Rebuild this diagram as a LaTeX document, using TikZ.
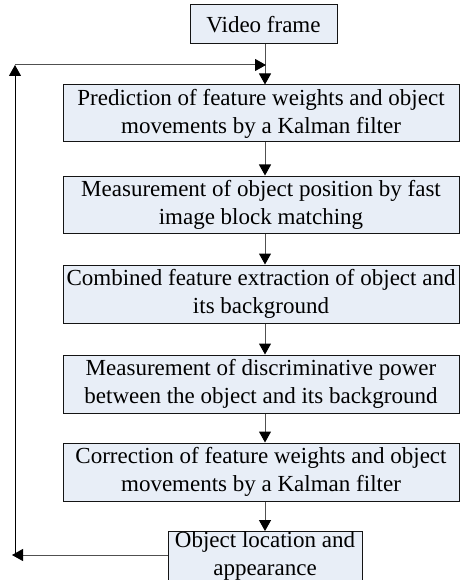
\documentclass[tikz,border=0pt]{standalone}
\usepackage{fontspec}
\setmainfont{Liberation Serif}
\usetikzlibrary{arrows.meta,calc}
\definecolor{boxfill}{RGB}{232,238,247}
\definecolor{boxline}{RGB}{20,20,20}
\definecolor{conn}{RGB}{80,80,80}
\begin{document}
\begin{tikzpicture}[x=1pt,y=1pt,
  box/.style={draw=boxline,line width=1pt,fill=boxfill,inner sep=0pt,align=center,
    font=\fontsize{23}{28}\selectfont},
  arr/.style={-{Triangle[length=11pt,width=12pt,color=black]},line width=1pt,draw=conn}]
\useasboundingbox (0,0) rectangle (461,-580);
\node[box,minimum width=147,minimum height=39] (vf) at (263.5,-24.5) {Video frame};
\node[box,minimum width=396,minimum height=57] (p1) at (261,-113.5) {Prediction of feature weights and object\\movements by a Kalman filter};
\node[box,minimum width=396,minimum height=57] (p2) at (261,-204.5) {Measurement of object position by fast\\image block matching};
\node[box,minimum width=396,minimum height=58] (p3) at (261,-294) {Combined feature extraction of object and\\its background};
\node[box,minimum width=396,minimum height=58] (p4) at (261,-384) {Measurement of discriminative power\\between the object and its background};
\node[box,minimum width=396,minimum height=58] (p5) at (261,-472) {Correction of feature weights and object\\movements by a Kalman filter};
\node[box,minimum width=194,minimum height=48] (ob) at (265,-556) {Object location and\\appearance};
\coordinate (ax) at (265,0);
\coordinate (top) at (266,-65);
\coordinate (lt) at (15,-65);
\coordinate (lb) at (15,-553);
\coordinate (lo) at (12,-555);
\draw[arr] (vf.south -| ax) -- (p1.north -| ax);
\draw[arr] (p1.south -| ax) -- (p2.north -| ax);
\draw[arr] (p2.south -| ax) -- (p3.north -| ax);
\draw[arr] (p3.south -| ax) -- (p4.north -| ax);
\draw[arr] (p4.south -| ax) -- (p5.north -| ax);
\draw[arr] (p5.south -| ax) -- (ob.north -| ax);
\draw[arr] (ob.west |- lo) -- (lo);
\draw[arr,draw=black] (lb) -- (lt);
\draw[arr] (lt) -- (top);
\end{tikzpicture}
\end{document}
